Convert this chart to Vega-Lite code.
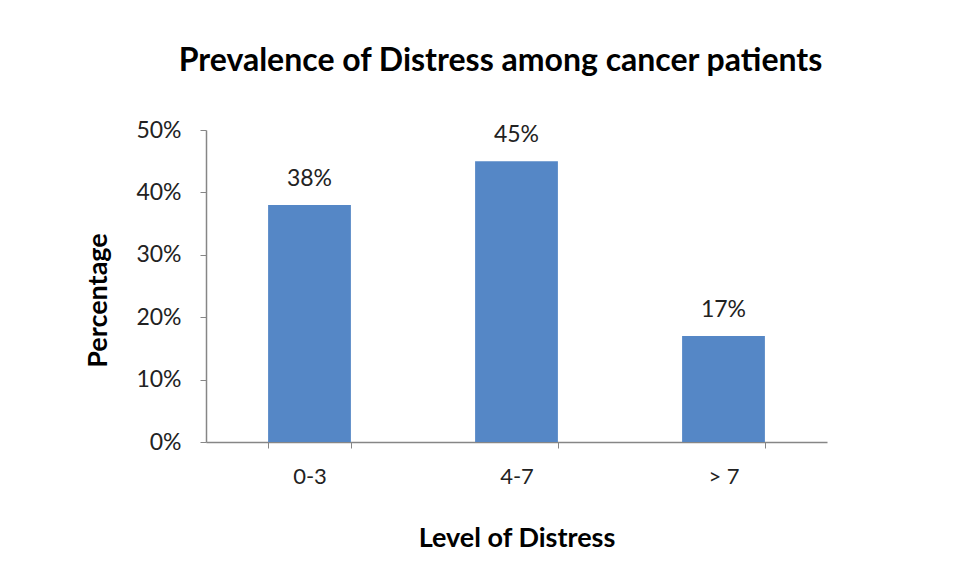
{
  "$schema": "https://vega.github.io/schema/vega-lite/v6.json",
  "autosize": "none",
  "padding": {"left": 206, "top": 130, "right": 129, "bottom": 132},
  "width": 621,
  "height": 312,
  "background": "white",
  "title": {
    "text": "Prevalence of Distress among cancer patients",
    "font": "Lato",
    "fontSize": 32,
    "fontWeight": "bold",
    "color": "#000000",
    "anchor": "middle",
    "dx": -16,
    "offset": 41
  },
  "data": {
    "values": [
      {"level": "0-3", "pct": 0.38, "label": "38%"},
      {"level": "4-7", "pct": 0.45, "label": "45%"},
      {"level": "> 7", "pct": 0.17, "label": "17%"}
    ]
  },
  "encoding": {
    "x": {
      "field": "level",
      "type": "nominal",
      "sort": null,
      "scale": {"paddingInner": 0.6, "paddingOuter": 0.3},
      "axis": {
        "title": "Level of Distress",
        "titleFont": "Lato",
        "titleFontSize": 27,
        "titleFontWeight": "bold",
        "titleColor": "#000000",
        "titlePadding": 38,
        "labelFont": "Lato",
        "labelFontSize": 22,
        "labelColor": "#222222",
        "labelAngle": 0,
        "labelPadding": 18,
        "tickBand": "extent",
        "tickColor": "#868686",
        "tickSize": 6,
        "domainColor": "#868686",
        "domainWidth": 1.5,
        "grid": false
      }
    },
    "y": {
      "field": "pct",
      "type": "quantitative",
      "scale": {"domain": [0, 0.5]},
      "axis": {
        "title": "Percentage",
        "titleFont": "Lato",
        "titleFontSize": 27,
        "titleFontWeight": "bold",
        "titleColor": "#000000",
        "titleX": -100,
        "titleY": 170,
        "titleAngle": -90,
        "titleAlign": "center",
        "titleBaseline": "alphabetic",
        "format": ".0%",
        "values": [0, 0.1, 0.2, 0.3, 0.4, 0.5],
        "labelFont": "Lato",
        "labelFontSize": 23,
        "labelColor": "#222222",
        "labelPadding": 19,
        "tickColor": "#868686",
        "tickSize": 6,
        "domainColor": "#868686",
        "domainWidth": 1.5,
        "grid": false
      }
    }
  },
  "layer": [
    {"mark": {"type": "bar", "color": "#5587C6"}},
    {
      "mark": {"type": "text", "baseline": "alphabetic", "dy": -19, "font": "Lato", "fontSize": 23, "color": "#222222"},
      "encoding": {"text": {"field": "label"}}
    }
  ],
  "config": {"view": {"stroke": null}}
}
